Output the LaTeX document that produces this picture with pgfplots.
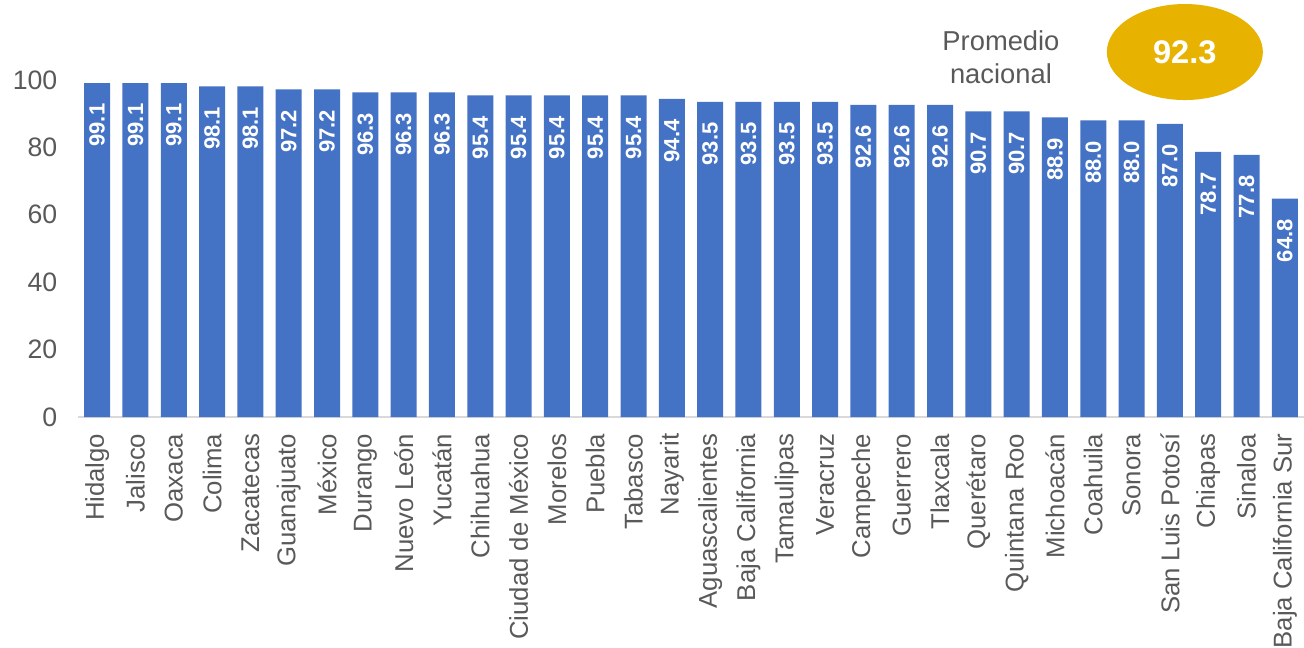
\documentclass[border=0pt]{standalone}
\usepackage{pgfplots}
\pgfplotsset{compat=1.18}
\usepackage{fontspec}
\setmainfont{Liberation Sans}
\definecolor{barblue}{HTML}{4472C4}
\definecolor{gold}{HTML}{E8B200}
\definecolor{txtgray}{HTML}{595959}
\definecolor{axgray}{HTML}{D9D9D9}
\begin{document}
\begin{tikzpicture}
\begin{axis}[
  name=ax,
  scale only axis,
  width=919.5pt, height=252.75pt,
  xmin=-0.5, xmax=31.5,
  ymin=0, ymax=100,
  clip=false,
  ybar, bar width=19.5pt,
  axis x line*=bottom,
  axis y line*=left,
  x axis line style={draw=axgray, line width=1pt},
  y axis line style={draw=none},
  major tick length=0pt,
  ytick={0,20,40,60,80,100},
  xtick={0,...,31},
  xticklabels={Hidalgo,Jalisco,Oaxaca,Colima,Zacatecas,Guanajuato,México,Durango,Nuevo León,Yucatán,Chihuahua,Ciudad de México,Morelos,Puebla,Tabasco,Nayarit,Aguascalientes,Baja California,Tamaulipas,Veracruz,Campeche,Guerrero,Tlaxcala,Querétaro,Quintana Roo,Michoacán,Coahuila,Sonora,San Luis Potosí,Chiapas,Sinaloa,Baja California Sur},
  xticklabel style={rotate=90, anchor=east, font=\fontsize{19.3pt}{21pt}\selectfont, text=txtgray, xshift=-9pt},
  yticklabel style={font=\fontsize{20pt}{22pt}\selectfont, text=txtgray, xshift=-12pt},
  /pgf/number format/assume math mode=true,
  nodes near coords={\pgfmathprintnumber[fixed,fixed zerofill,precision=1]{\pgfplotspointmeta}},
  nodes near coords style={rotate=90, anchor=east, text=white, font=\bfseries\fontsize{16.5pt}{18pt}\selectfont, xshift=-12pt},
]
\addplot[fill=barblue, draw=none] coordinates {
(0,99.1) (1,99.1) (2,99.1) (3,98.1) (4,98.1) (5,97.2) (6,97.2) (7,96.3)
(8,96.3) (9,96.3) (10,95.4) (11,95.4) (12,95.4) (13,95.4) (14,95.4) (15,94.4)
(16,93.5) (17,93.5) (18,93.5) (19,93.5) (20,92.6) (21,92.6) (22,92.6) (23,90.7)
(24,90.7) (25,88.9) (26,88.0) (27,88.0) (28,87.0) (29,78.7) (30,77.8) (31,64.8)
};
\fill[gold] (axis cs:28.39,108.3) ellipse [x radius=58.5pt, y radius=36pt];
\node[text=white, font=\bfseries\fontsize{24.5pt}{26pt}\selectfont] at (axis cs:28.39,108.3) {92.3};
\node[text=txtgray, align=center, font=\fontsize{20.5pt}{24.5pt}\selectfont] at (axis cs:23.59,106.8) {Promedio\\nacional};
\end{axis}
\pgfresetboundingbox
\path (ax.south west) ++(-58.5pt,-173.25pt) coordinate (bl);
\path (ax.north east) ++(0pt,60pt) coordinate (tr);
\path[use as bounding box] (bl) rectangle (tr);
\end{tikzpicture}
\end{document}
